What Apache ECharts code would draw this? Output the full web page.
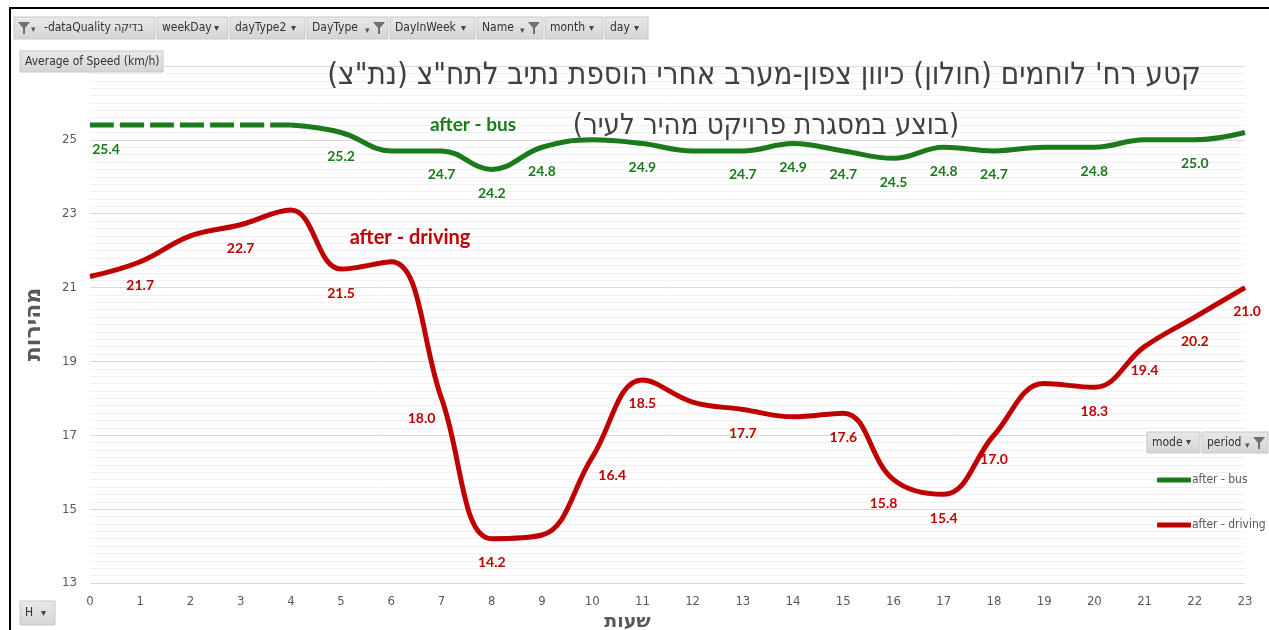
<!DOCTYPE html>
<html>
<head>
<meta charset="utf-8">
<script src="https://cdn.jsdelivr.net/npm/echarts@6/dist/echarts.min.js"></script>
<style>
  html, body { margin: 0; padding: 0; background: #fff; }
  #chart { width: 1269px; height: 630px; }
</style>
</head>
<body>
<div id="chart"></div>
<script>
// hours of day
var hours = ['0','1','2','3','4','5','6','7','8','9','10','11','12','13','14','15','16','17','18','19','20','21','22','23'];
// average speed (km/h) per hour
var busSpeed = [25.4, 25.4, 25.4, 25.4, 25.4, 25.2, 24.7, 24.7, 24.2, 24.8, 25.0, 24.9, 24.7, 24.7, 24.9, 24.7, 24.5, 24.8, 24.7, 24.8, 24.8, 25.0, 25.0, 25.2];
var drivingSpeed = [21.3, 21.7, 22.4, 22.7, 23.1, 21.5, 21.7, 18.0, 14.2, 14.3, 16.4, 18.5, 17.9, 17.7, 17.5, 17.6, 15.8, 15.4, 17.0, 18.4, 18.3, 19.4, 20.2, 21.0];
// hours that carry a data label in the original
var busLabelHours = [0, 5, 7, 8, 9, 11, 13, 14, 15, 16, 17, 18, 20, 22];
var drivingLabelHours = [1, 3, 5, 7, 8, 10, 11, 13, 15, 16, 17, 18, 20, 21, 22, 23];
// hours drawn dashed on the bus line
var busDashedUntil = 4;

var yTicks = [13, 15, 17, 19, 21, 23, 25, 27];
var seriesNames = ['after - bus', 'after - driving'];
var titleText = 'קטע רח\' לוחמים (חולון) כיוון צפון-מערב אחרי הוספת נתיב לתח"צ (נת"צ)';
var subTitleText = '(בוצע במסגרת פרויקט מהיר לעיר)';
var yName = 'מהירות';
var xName = 'שעות';

var GREEN = '#1b7a1b';
var RED = '#c00000';
var RLM = '\u200F';

// per-label nudges (layout only)
var labelNudge = {
  bus: { 0: [16, 0] },
  driving: { 7: [-20, -4], 10: [20, -6], 16: [-10, 0], 23: [2, 0] }
};

function buildData(values, labelHours, from, to, nudge) {
  return values.map(function (v, i) {
    if (i < from || i > to) return null;
    var item = { value: v };
    if (labelHours.indexOf(i) >= 0) {
      item.label = { show: true };
      if (nudge[i]) item.label.offset = nudge[i];
    }
    return item;
  });
}

var labelStyle = function (color) {
  return {
    show: false,
    position: 'bottom',
    distance: 17,
    color: color,
    fontFamily: 'Lato',
    fontWeight: 'bold',
    fontSize: 14,
    formatter: function (p) { return p.value.toFixed(1); }
  };
};

var myChart = echarts.init(document.getElementById('chart'));

// pivot field buttons
var topButtons = [
  { text: '-dataQuality בדיקה', x: 14, w: 141, funnel: 'left' },
  { text: 'weekDay', x: 157, w: 71 },
  { text: 'dayType2', x: 230, w: 75 },
  { text: 'DayType', x: 307, w: 81, funnel: 'right' },
  { text: 'DayInWeek', x: 390, w: 85 },
  { text: 'Name', x: 477, w: 66, funnel: 'right' },
  { text: 'month', x: 545, w: 58 },
  { text: 'day', x: 605, w: 43 }
];

function funnel(x, y) {
  return {
    type: 'polygon',
    z: 101,
    shape: { points: [[x, y], [x + 12, y], [x + 7, y + 6], [x + 7, y + 12], [x + 5, y + 12], [x + 5, y + 6]] },
    style: { fill: '#707070' }
  };
}

function button(b, y, h) {
  var els = [{
    type: 'rect', z: 100,
    shape: { x: b.x, y: y, width: b.w, height: h },
    style: {
      fill: new echarts.graphic.LinearGradient(0, 0, 0, 1, [
        { offset: 0, color: '#e9e9e9' }, { offset: 1, color: '#d4d4d4' }
      ]),
      stroke: '#c8c8c8', lineWidth: 1
    }
  }];
  var tx = b.x + 5;
  if (b.funnel === 'left') {
    els.push(funnel(b.x + 4, y + 5));
    els.push({ type: 'text', z: 101, style: { x: b.x + 17, y: y + 8, text: '▾', fill: '#555', font: '9px "DejaVu Sans"' } });
    tx = b.x + 30;
  }
  els.push({
    type: 'text', z: 101,
    style: { x: tx, y: y + h / 2, text: b.text, verticalAlign: 'middle', fill: '#333', font: '12px "DejaVu Sans Condensed"' }
  });
  if (b.funnel === 'right') {
    els.push({ type: 'text', z: 101, style: { x: b.x + b.w - 23, y: y + 9, text: '▾', fill: '#555', font: '9px "DejaVu Sans"' } });
    els.push(funnel(b.x + b.w - 15, y + 5));
  } else if (b.funnel !== 'left' && !b.plain) {
    els.push({ type: 'text', z: 101, style: { x: b.x + b.w - 14, y: y + h / 2, text: '▾', verticalAlign: 'middle', fill: '#444', font: '10px "DejaVu Sans"' } });
  }
  return els;
}

var graphics = [{
  type: 'rect', z: 99,
  shape: { x: 10, y: 8, width: 1270, height: 630 },
  style: { fill: 'none', stroke: '#000', lineWidth: 2 }
}];
topButtons.forEach(function (b) { graphics = graphics.concat(button(b, 17, 22)); });
graphics = graphics.concat(button({ text: 'Average of Speed (km/h)', x: 20, w: 143, plain: true }, 51, 21));
graphics = graphics.concat(button({ text: 'mode', x: 1147, w: 53 }, 432, 21));
graphics = graphics.concat(button({ text: 'period', x: 1202, w: 66, funnel: 'right' }, 432, 21));
graphics = graphics.concat(button({ text: 'H', x: 20, w: 35 }, 601, 24));

graphics.push({
  type: 'text', z: 50,
  style: { x: 473, y: 125, text: seriesNames[0], align: 'center', verticalAlign: 'middle', fill: GREEN, font: 'bold 19px Lato' }
});
graphics.push({
  type: 'text', z: 50,
  style: { x: 410, y: 238, text: seriesNames[1], align: 'center', verticalAlign: 'middle', fill: RED, font: 'bold 20px Lato' }
});

myChart.setOption({
  backgroundColor: '#fff',
  animation: false,
  title: [
    {
      text: RLM + titleText + RLM,
      left: 759, top: 55, textAlign: 'center',
      textStyle: { fontFamily: '"DejaVu Sans Condensed"', fontWeight: 'normal', fontSize: 31, color: '#404040' }
    },
    {
      text: RLM + subTitleText + RLM,
      left: 761, top: 107, textAlign: 'center',
      textStyle: { fontFamily: '"DejaVu Sans Condensed"', fontWeight: 'normal', fontSize: 29, color: '#404040' }
    }
  ],
  legend: {
    orient: 'vertical',
    left: 1152, top: 469,
    data: seriesNames,
    icon: 'roundRect',
    itemWidth: 34, itemHeight: 5, itemGap: 33,
    textStyle: { color: '#595959', fontSize: 12, fontFamily: '"DejaVu Sans Condensed"', padding: [0, 0, 0, -4] }
  },
  grid: { left: 90, right: 24, top: 66, bottom: 47, containLabel: false, outerBoundsMode: 'none' },
  xAxis: {
    type: 'category',
    data: hours,
    boundaryGap: false,
    axisLine: { show: false },
    axisTick: { show: false },
    axisLabel: { color: '#595959', fontSize: 13, margin: 12, fontFamily: '"DejaVu Sans Condensed"' },
    name: xName,
    nameLocation: 'middle',
    nameGap: 26,
    nameTextStyle: { color: '#595959', fontSize: 19, fontWeight: 'bold', fontFamily: '"DejaVu Sans"', padding: [0, 80, 0, 0] }
  },
  yAxis: {
    type: 'value',
    min: yTicks[0], max: yTicks[yTicks.length - 1], interval: 2,
    axisLine: { show: false },
    axisTick: { show: false },
    axisLabel: { color: '#595959', fontSize: 13, margin: 13, showMaxLabel: false, fontFamily: '"DejaVu Sans Condensed"' },
    splitLine: { lineStyle: { color: '#d9d9d9', width: 1 } },
    minorTick: { show: false, splitNumber: 10 },
    minorSplitLine: { show: true, lineStyle: { color: '#f0f0f0', width: 1 } },
    name: yName,
    nameLocation: 'middle',
    nameRotate: 90,
    nameGap: 45,
    nameTextStyle: { color: '#595959', fontSize: 22, fontWeight: 'bold', fontFamily: '"DejaVu Sans"' }
  },
  series: [
    {
      name: seriesNames[0], type: 'line', smooth: 0.4,
      data: buildData(busSpeed, busLabelHours, 0, busDashedUntil, labelNudge.bus),
      showSymbol: true, symbolSize: 0, connectNulls: false,
      lineStyle: { color: GREEN, width: 5, type: [24, 6] },
      itemStyle: { color: GREEN },
      label: labelStyle(GREEN), z: 3
    },
    {
      name: seriesNames[0], type: 'line', smooth: 0.4,
      data: buildData(busSpeed, busLabelHours, busDashedUntil, 23, labelNudge.bus),
      showSymbol: true, symbolSize: 0,
      lineStyle: { color: GREEN, width: 5 },
      itemStyle: { color: GREEN },
      label: labelStyle(GREEN), z: 3
    },
    {
      name: seriesNames[1], type: 'line', smooth: 0.4,
      data: buildData(drivingSpeed, drivingLabelHours, 0, 23, labelNudge.driving),
      showSymbol: true, symbolSize: 0,
      lineStyle: { color: RED, width: 5 },
      itemStyle: { color: RED },
      label: labelStyle(RED), z: 3
    }
  ],
  graphic: graphics
});
</script>
</body>
</html>
